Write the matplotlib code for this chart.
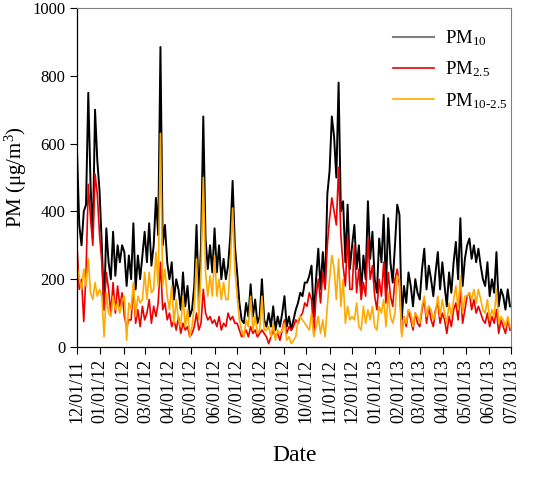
import numpy as np
import matplotlib
matplotlib.use("Agg")
import matplotlib.pyplot as plt
import matplotlib.dates as mdates
from matplotlib.lines import Line2D

# ---- data (3-day samples starting 2011-12-01) ----
start_date = "2011-12-01"
step_days = 3

pm10 = [
    # Dec 2011
    580, 360, 300, 400, 420, 750, 480, 320, 700, 550, 460,
    # Jan 2012
    300, 110, 350, 250, 200, 340, 210, 300, 250, 300,
    # Feb
    280, 180, 270, 200, 365, 170, 270, 200, 270, 340,
    # Mar
    250, 365, 240, 300, 440, 330, 885, 300, 360, 250,
    # Apr
    200, 250, 140, 200, 170, 110, 220, 120, 180, 90,
    # May
    110, 180, 360, 140, 300, 680, 320, 230, 300, 220,
    # Jun
    350, 220, 300, 200, 260, 200, 240, 330, 490, 300,
    # Jul
    220, 130, 80, 70, 130, 90, 185, 90, 140, 70, 90,
    # Aug
    200, 80, 60, 100, 60, 120, 50, 90, 60, 100,
    # Sep
    150, 60, 90, 50, 80, 110, 130, 160, 150, 190,
    # Oct
    190, 210, 240, 90, 200, 290, 170, 280, 180, 450,
    # Nov
    520, 680, 620, 500, 780, 400, 430, 250, 420, 230,
    # Dec 2012
    300, 360, 230, 300, 160, 270, 200, 430, 260, 340, 200,
    # Jan 2013
    160, 320, 250, 390, 170, 380, 250, 190, 300, 420,
    # Feb
    390, 80, 180, 130, 220, 180, 120, 200, 160,
    # Mar
    140, 230, 290, 170, 240, 200, 150, 220, 280, 170, 250,
    # Apr
    180, 120, 220, 160, 250, 310, 200, 380, 180, 260,
    # May
    300, 320, 260, 300, 250, 290, 240, 200, 180, 250,
    # Jun
    150, 200, 160, 280, 120, 170, 150, 110, 170, 120,
]

pm25 = [
    300, 170, 200, 75, 220, 480, 380, 300, 510, 450, 330,
    250, 110, 220, 170, 100, 190, 100, 180, 120, 160,
    90, 60, 80, 80, 180, 70, 110, 60, 120, 80,
    100, 140, 70, 120, 90, 130, 250, 110, 130, 80,
    100, 60, 80, 50, 90, 40, 70, 50, 60, 30,
    40, 60, 100, 50, 70, 170, 100, 80, 90, 70,
    80, 60, 90, 50, 70, 60, 100, 80, 90, 70,
    70, 50, 30, 40, 50, 30, 60, 40, 50, 30, 40,
    50, 40, 30, 10, 30, 50, 30, 40, 20, 50,
    80, 40, 60, 50, 60, 80, 70, 90, 100, 130,
    120, 160, 140, 40, 150, 200, 130, 220, 170, 300,
    380, 440, 400, 360, 530, 330, 240, 180, 330, 170,
    170, 300, 160, 230, 140, 190, 150, 320, 200, 240, 150,
    110, 200, 150, 250, 130, 220, 150, 120, 200, 230,
    180, 40, 90, 60, 110, 80, 50, 100, 70,
    60, 110, 140, 70, 120, 80, 60, 110, 130, 70, 100,
    80, 40, 90, 60, 110, 130, 80, 170, 70, 110,
    150, 160, 110, 140, 100, 120, 100, 80, 70, 100,
    60, 90, 70, 110, 40, 80, 60, 40, 80, 50,
]

pm_coarse = [
    240, 200, 170, 230, 180, 260, 160, 140, 190, 150, 170,
    150, 30, 160, 100, 90, 150, 110, 130, 100, 140,
    150, 20, 130, 110, 190, 90, 150, 130, 140, 220,
    140, 220, 160, 170, 280, 180, 630, 180, 230, 150,
    110, 180, 70, 140, 80, 60, 150, 60, 110, 30,
    60, 120, 260, 80, 230, 500, 220, 150, 210, 150,
    270, 150, 200, 140, 190, 140, 140, 250, 410, 230,
    150, 80, 50, 30, 80, 60, 150, 50, 90, 40, 50,
    150, 50, 50, 60, 30, 70, 20, 50, 40, 50,
    70, 20, 30, 10, 20, 30, 80, 90, 80, 70,
    60, 50, 100, 30, 60, 90, 40, 80, 30, 120,
    200, 270, 230, 140, 260, 120, 200, 70, 120, 80,
    90, 80, 130, 60, 50, 120, 70, 110, 80, 120, 60,
    50, 120, 100, 140, 60, 160, 90, 70, 100, 210,
    200, 30, 90, 70, 110, 100, 60, 100, 90,
    70, 120, 150, 90, 120, 110, 80, 100, 150, 90, 140,
    100, 70, 130, 90, 140, 180, 110, 210, 100, 150,
    150, 160, 140, 170, 130, 170, 140, 110, 100, 140,
    80, 110, 90, 170, 70, 90, 80, 60, 90, 60,
]

series_labels = [r"PM$_{10}$", r"PM$_{2.5}$", r"PM$_{10\text{-}2.5}$"]
y_ticks = [0, 200, 400, 600, 800, 1000]
x_start, x_end = "2011-12-01", "2013-07-01"

# ---- plotting ----
plt.rcParams["font.family"] = ["Liberation Serif", "DejaVu Serif"]
plt.rcParams["mathtext.fontset"] = "custom"
plt.rcParams["mathtext.rm"] = "Liberation Serif"
plt.rcParams["mathtext.it"] = "Liberation Serif:italic"

n = len(pm10)
dates = np.datetime64(start_date) + step_days * np.arange(n)

fig = plt.figure(figsize=(5.45, 4.80), dpi=100)
ax = fig.add_axes([0.1413, 0.2771, 0.7972, 0.7062])

ax.plot(dates, pm10, color="black", lw=1.4)
ax.plot(dates, pm25, color="#ee0000", lw=1.2)
ax.plot(dates, pm_coarse, color="#ffaa00", lw=1.2)

ax.set_xlim(np.datetime64(x_start), np.datetime64(x_end))
ax.set_ylim(0, 1000)
ax.set_yticks(y_ticks)
ax.xaxis.set_major_locator(mdates.MonthLocator())
ax.xaxis.set_major_formatter(mdates.DateFormatter("%m/%d/%y"))
ax.tick_params(axis="x", rotation=90, labelsize=13, direction="out", length=5, width=0.8)
ax.tick_params(axis="y", labelsize=12, direction="out", length=5, width=0.8)

for s in ["top", "right"]:
    ax.spines[s].set_color("#808080")
    ax.spines[s].set_linewidth(0.8)
for s in ["left", "bottom"]:
    ax.spines[s].set_linewidth(0.9)

ax.set_ylabel(r"PM ($\mathregular{\mu g/m^3}$)", fontsize=15, labelpad=2)
ax.set_xlabel("Date", fontsize=17, labelpad=16)

handles = [Line2D([], [], color="#808080", lw=1.5),
           Line2D([], [], color="#ee0000", lw=1.2),
           Line2D([], [], color="#ffaa00", lw=1.2)]
ax.legend(handles, series_labels, loc="upper right", frameon=False,
          fontsize=13.5, handlelength=2.2, labelspacing=0.62, handletextpad=0.6,
          bbox_to_anchor=(1.03, 0.99))

fig.savefig("out.png", dpi=100)
